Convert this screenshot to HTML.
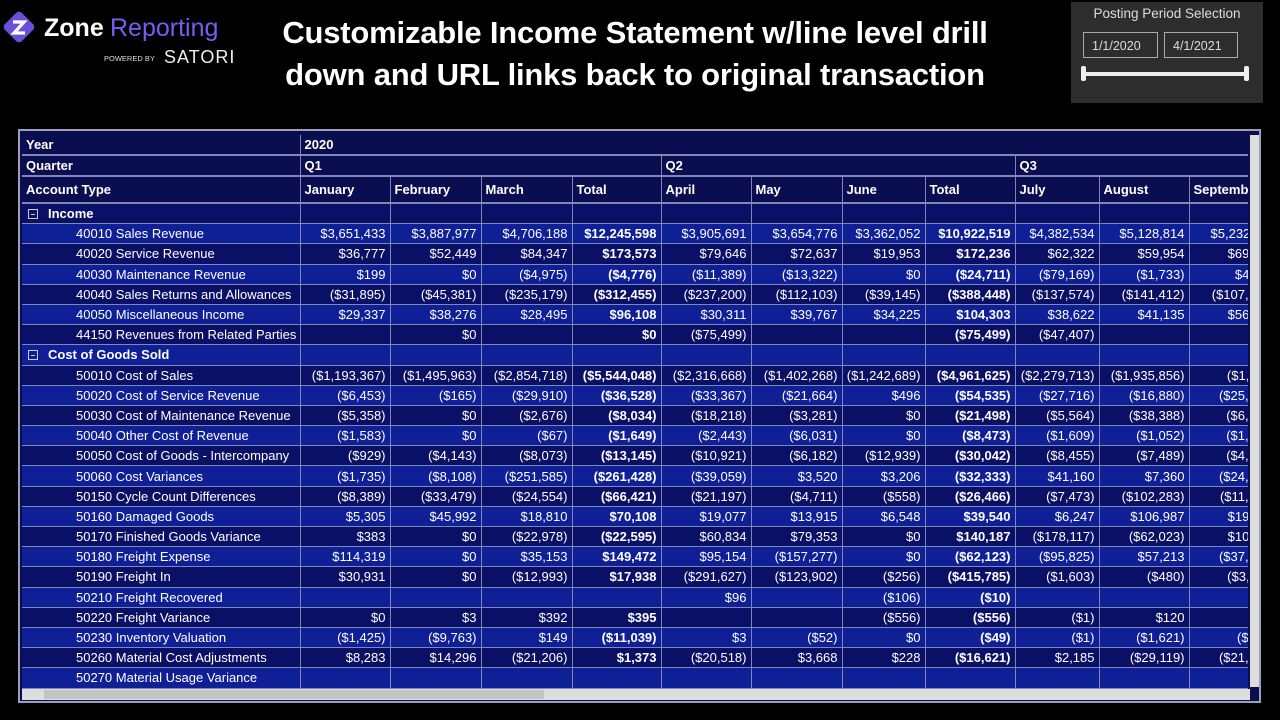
<!DOCTYPE html>
<html><head><meta charset="utf-8"><style>
*{margin:0;padding:0;box-sizing:border-box}
body{width:1280px;height:720px;background:#000;font-family:"Liberation Sans",sans-serif;color:#fff;position:relative;overflow:hidden}
.title{position:absolute;left:190px;width:890px;top:12px;text-align:center;font-weight:bold;font-size:31px;line-height:42px;color:#fff;letter-spacing:-0.2px}
.logo{position:absolute;left:4px;top:8px}
.slicer{position:absolute;left:1071px;top:2px;width:192px;height:101px;background:#2d2d2d}
.slicer .t{position:absolute;top:4px;width:100%;text-align:center;font-size:13.5px;color:#ddd}
.inp{position:absolute;top:30px;height:26px;border:1px solid #aaa;font-size:12.5px;color:#ddd;padding:6px 0 0 8px}
.bar{position:absolute;left:13px;top:70px;width:164px;height:4px;background:#eee;border-radius:2px}
.cap{position:absolute;top:64px;width:5px;height:15px;background:#eee;border-radius:2px}
.frame{position:absolute;left:18px;top:129px;width:1243px;height:574px;border:2px solid #9aa0b8;background:#0a0d4f}
.wrap{position:absolute;left:2px;top:4px;width:1226px;height:556px;overflow:hidden}
table{border-collapse:collapse;table-layout:fixed;font-size:13px;width:1257px}
td{height:20.2px;border:1px solid #7f86b8;border-top:none;padding:0 4px;white-space:nowrap;overflow:hidden;text-align:right;line-height:19px}
td:first-child{text-align:left;border-left:none}
tr.h td{background:#0a0d4f;font-weight:bold;text-align:left;border-bottom:2px solid #8088b8}
tr.h.a td{height:27px;vertical-align:top;padding-top:3px}
tr.b td{background:#0f1f96}
tr.d td{background:#0a1066}
td.t{font-weight:bold}
td.n{padding-left:54px}
.g{font-weight:bold;padding-left:6px}
.box{display:inline-block;width:10px;height:10px;border:1px solid #ccc;position:relative;margin-right:10px;vertical-align:-1px}
.box:after{content:"";position:absolute;left:2px;top:3.5px;width:4px;height:1px;background:#ccc}
.vs{position:absolute;left:1230px;top:4px;width:9px;height:552px;background:#ddd}
.hs{position:absolute;left:2px;top:558px;width:1228px;height:11px;background:#ddd}
.hs i{position:absolute;left:22px;top:1px;width:500px;height:9px;background:#c4c4c4}
</style></head><body>
<div class="logo">
<svg width="240" height="60"><g transform="translate(15,19) rotate(45)"><rect x="-12" y="-12" width="24" height="24" rx="4" fill="#6a4fd9"/></g>
<path d="M9 14 L20 14 L10 25 L21 25" stroke="#fff" stroke-width="3.2" fill="none"/>
<text x="40" y="28" font-family="Liberation Sans" font-weight="bold" font-size="25" fill="#fff">Zone</text>
<text x="106" y="28" font-family="Liberation Sans" font-size="25" fill="#7b5cf0">Reporting</text>
<text x="100" y="53" font-family="Liberation Sans" font-size="7.5" fill="#ddd">POWERED BY</text>
<text x="160" y="55" font-family="Liberation Sans" font-size="18" fill="#eee" letter-spacing="1">SATORI</text></svg>
</div>
<div class="title">Customizable Income Statement w/line level drill<br>down and URL links back to original transaction</div>
<div class="slicer"><div class="t">Posting Period Selection</div>
<div class="inp" style="left:12px;width:75px">1/1/2020</div>
<div class="inp" style="left:93px;width:74px">4/1/2021</div>
<div class="bar"></div><div class="cap" style="left:10px"></div><div class="cap" style="left:173px"></div></div>
<div class="frame"><div class="wrap"><table>
<colgroup><col style="width:278px"><col style="width:90px"><col style="width:91px"><col style="width:91px"><col style="width:89px"><col style="width:90px"><col style="width:91px"><col style="width:83px"><col style="width:90px"><col style="width:84px"><col style="width:90px"><col style="width:90px"></colgroup>
<tr class="h"><td>Year</td><td colspan="11" style="border-right:none">2020</td></tr>
<tr class="h"><td>Quarter</td><td colspan="4">Q1</td><td colspan="4">Q2</td><td colspan="3">Q3</td></tr>
<tr class="h a"><td>Account Type</td><td>January</td><td>February</td><td>March</td><td>Total</td><td>April</td><td>May</td><td>June</td><td>Total</td><td>July</td><td>August</td><td>September</td></tr>
<tr class="d"><td class="g"><span class="box"></span>Income</td><td></td><td></td><td></td><td></td><td></td><td></td><td></td><td></td><td></td><td></td><td></td></tr>
<tr class="b"><td class="n">40010 Sales Revenue</td><td>$3,651,433</td><td>$3,887,977</td><td>$4,706,188</td><td class="t">$12,245,598</td><td>$3,905,691</td><td>$3,654,776</td><td>$3,362,052</td><td class="t">$10,922,519</td><td>$4,382,534</td><td>$5,128,814</td><td>$5,232,118</td></tr>
<tr class="d"><td class="n">40020 Service Revenue</td><td>$36,777</td><td>$52,449</td><td>$84,347</td><td class="t">$173,573</td><td>$79,646</td><td>$72,637</td><td>$19,953</td><td class="t">$172,236</td><td>$62,322</td><td>$59,954</td><td>$69,412</td></tr>
<tr class="b"><td class="n">40030 Maintenance Revenue</td><td>$199</td><td>$0</td><td>($4,975)</td><td class="t">($4,776)</td><td>($11,389)</td><td>($13,322)</td><td>$0</td><td class="t">($24,711)</td><td>($79,169)</td><td>($1,733)</td><td>$4,210</td></tr>
<tr class="d"><td class="n">40040 Sales Returns and Allowances</td><td>($31,895)</td><td>($45,381)</td><td>($235,179)</td><td class="t">($312,455)</td><td>($237,200)</td><td>($112,103)</td><td>($39,145)</td><td class="t">($388,448)</td><td>($137,574)</td><td>($141,412)</td><td>($107,215)</td></tr>
<tr class="b"><td class="n">40050 Miscellaneous Income</td><td>$29,337</td><td>$38,276</td><td>$28,495</td><td class="t">$96,108</td><td>$30,311</td><td>$39,767</td><td>$34,225</td><td class="t">$104,303</td><td>$38,622</td><td>$41,135</td><td>$56,104</td></tr>
<tr class="d"><td class="n">44150 Revenues from Related Parties</td><td></td><td>$0</td><td></td><td class="t">$0</td><td>($75,499)</td><td></td><td></td><td class="t">($75,499)</td><td>($47,407)</td><td></td><td></td></tr>
<tr class="b"><td class="g"><span class="box"></span>Cost of Goods Sold</td><td></td><td></td><td></td><td></td><td></td><td></td><td></td><td></td><td></td><td></td><td></td></tr>
<tr class="d"><td class="n">50010 Cost of Sales</td><td>($1,193,367)</td><td>($1,495,963)</td><td>($2,854,718)</td><td class="t">($5,544,048)</td><td>($2,316,668)</td><td>($1,402,268)</td><td>($1,242,689)</td><td class="t">($4,961,625)</td><td>($2,279,713)</td><td>($1,935,856)</td><td>($1,959,</td></tr>
<tr class="b"><td class="n">50020 Cost of Service Revenue</td><td>($6,453)</td><td>($165)</td><td>($29,910)</td><td class="t">($36,528)</td><td>($33,367)</td><td>($21,664)</td><td>$496</td><td class="t">($54,535)</td><td>($27,716)</td><td>($16,880)</td><td>($25,310)</td></tr>
<tr class="d"><td class="n">50030 Cost of Maintenance Revenue</td><td>($5,358)</td><td>$0</td><td>($2,676)</td><td class="t">($8,034)</td><td>($18,218)</td><td>($3,281)</td><td>$0</td><td class="t">($21,498)</td><td>($5,564)</td><td>($38,388)</td><td>($6,412)</td></tr>
<tr class="b"><td class="n">50040 Other Cost of Revenue</td><td>($1,583)</td><td>$0</td><td>($67)</td><td class="t">($1,649)</td><td>($2,443)</td><td>($6,031)</td><td>$0</td><td class="t">($8,473)</td><td>($1,609)</td><td>($1,052)</td><td>($1,284)</td></tr>
<tr class="d"><td class="n">50050 Cost of Goods - Intercompany</td><td>($929)</td><td>($4,143)</td><td>($8,073)</td><td class="t">($13,145)</td><td>($10,921)</td><td>($6,182)</td><td>($12,939)</td><td class="t">($30,042)</td><td>($8,455)</td><td>($7,489)</td><td>($4,517)</td></tr>
<tr class="b"><td class="n">50060 Cost Variances</td><td>($1,735)</td><td>($8,108)</td><td>($251,585)</td><td class="t">($261,428)</td><td>($39,059)</td><td>$3,520</td><td>$3,206</td><td class="t">($32,333)</td><td>$41,160</td><td>$7,360</td><td>($24,190)</td></tr>
<tr class="d"><td class="n">50150 Cycle Count Differences</td><td>($8,389)</td><td>($33,479)</td><td>($24,554)</td><td class="t">($66,421)</td><td>($21,197)</td><td>($4,711)</td><td>($558)</td><td class="t">($26,466)</td><td>($7,473)</td><td>($102,283)</td><td>($11,064)</td></tr>
<tr class="b"><td class="n">50160 Damaged Goods</td><td>$5,305</td><td>$45,992</td><td>$18,810</td><td class="t">$70,108</td><td>$19,077</td><td>$13,915</td><td>$6,548</td><td class="t">$39,540</td><td>$6,247</td><td>$106,987</td><td>$19,350</td></tr>
<tr class="d"><td class="n">50170 Finished Goods Variance</td><td>$383</td><td>$0</td><td>($22,978)</td><td class="t">($22,595)</td><td>$60,834</td><td>$79,353</td><td>$0</td><td class="t">$140,187</td><td>($178,117)</td><td>($62,023)</td><td>$10,481</td></tr>
<tr class="b"><td class="n">50180 Freight Expense</td><td>$114,319</td><td>$0</td><td>$35,153</td><td class="t">$149,472</td><td>$95,154</td><td>($157,277)</td><td>$0</td><td class="t">($62,123)</td><td>($95,825)</td><td>$57,213</td><td>($37,526)</td></tr>
<tr class="d"><td class="n">50190 Freight In</td><td>$30,931</td><td>$0</td><td>($12,993)</td><td class="t">$17,938</td><td>($291,627)</td><td>($123,902)</td><td>($256)</td><td class="t">($415,785)</td><td>($1,603)</td><td>($480)</td><td>($3,118)</td></tr>
<tr class="b"><td class="n">50210 Freight Recovered</td><td></td><td></td><td></td><td></td><td>$96</td><td></td><td>($106)</td><td class="t">($10)</td><td></td><td></td><td></td></tr>
<tr class="d"><td class="n">50220 Freight Variance</td><td>$0</td><td>$3</td><td>$392</td><td class="t">$395</td><td></td><td></td><td>($556)</td><td class="t">($556)</td><td>($1)</td><td>$120</td><td></td></tr>
<tr class="b"><td class="n">50230 Inventory Valuation</td><td>($1,425)</td><td>($9,763)</td><td>$149</td><td class="t">($11,039)</td><td>$3</td><td>($52)</td><td>$0</td><td class="t">($49)</td><td>($1)</td><td>($1,621)</td><td>($204)</td></tr>
<tr class="d"><td class="n">50260 Material Cost Adjustments</td><td>$8,283</td><td>$14,296</td><td>($21,206)</td><td class="t">$1,373</td><td>($20,518)</td><td>$3,668</td><td>$228</td><td class="t">($16,621)</td><td>$2,185</td><td>($29,119)</td><td>($21,487)</td></tr>
<tr class="b"><td class="n">50270 Material Usage Variance</td><td></td><td></td><td></td><td></td><td></td><td></td><td></td><td></td><td></td><td></td><td></td></tr>
</table></div>
<div class="vs"></div>
<div class="hs"><i></i></div>
</div>
</body></html>
